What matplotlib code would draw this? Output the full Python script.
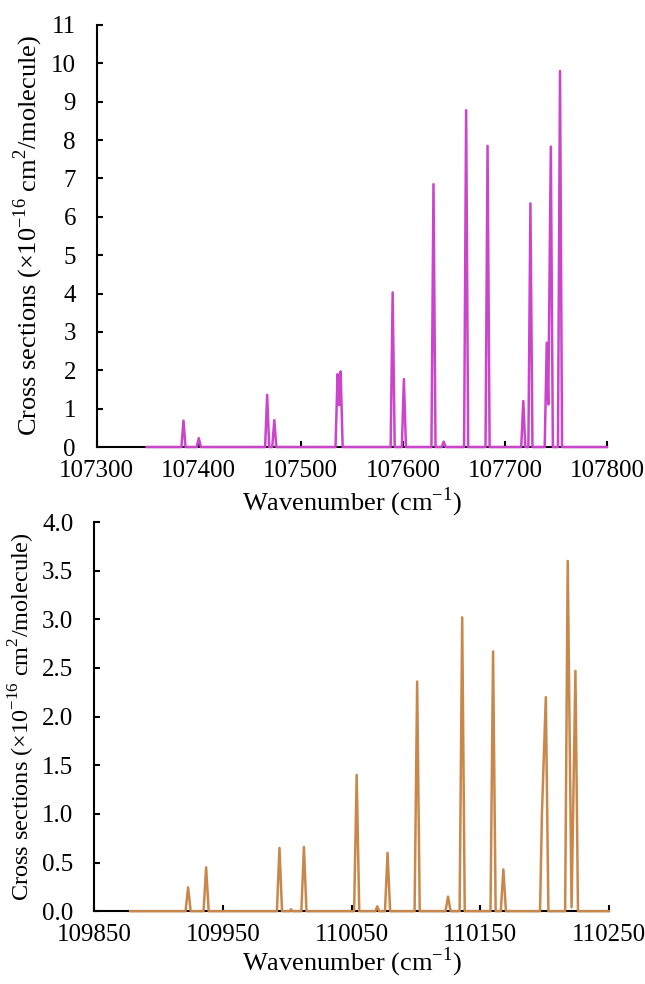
import matplotlib
matplotlib.use('Agg')
import matplotlib.pyplot as plt

# top panel: spectrum vertices (cm-1, 1e-16 cm2/molecule)
wn_top = [107349, 107383, 107385, 107387, 107398, 107400, 107402,
          107465, 107467, 107469, 107472, 107474, 107476,
          107534, 107536, 107537.5, 107539, 107541,
          107588, 107590, 107592, 107599, 107601, 107603,
          107628, 107630, 107632, 107638, 107640, 107642,
          107660, 107662, 107664, 107681, 107683, 107685,
          107716, 107718, 107720, 107723, 107725, 107727,
          107739, 107741, 107742.5, 107745, 107747,
          107752, 107754, 107756, 107800]
cs_top = [0, 0, 0.69, 0, 0, 0.23, 0,
          0, 1.36, 0, 0, 0.70, 0,
          0, 1.90, 1.09, 1.97, 0,
          0, 4.03, 0, 0, 1.77, 0,
          0, 6.85, 0, 0, 0.14, 0,
          0, 8.78, 0, 0, 7.85, 0,
          0, 1.20, 0, 0, 6.35, 0,
          0, 2.72, 1.11, 7.83, 0,
          0, 9.80, 0, 0]

# bottom panel
wn_bot = [109878, 109921, 109923, 109925, 109935, 109937, 109939,
          109992, 109994, 109996, 110002, 110003, 110004,
          110011, 110013, 110015, 110052, 110054, 110056,
          110068.5, 110070, 110071.5, 110076, 110078, 110080,
          110099, 110101, 110103, 110123, 110125, 110127,
          110134, 110136, 110138, 110158, 110160, 110162,
          110166, 110168, 110170,
          110196.5, 110198, 110201, 110203,
          110216, 110218, 110221, 110224, 110226, 110250]
cs_bot = [0, 0, 0.245, 0, 0, 0.45, 0,
          0, 0.65, 0, 0, 0.02, 0,
          0, 0.66, 0, 0, 1.40, 0,
          0, 0.05, 0, 0, 0.60, 0,
          0, 2.36, 0, 0, 0.15, 0,
          0, 3.02, 0, 0, 2.67, 0,
          0, 0.43, 0,
          0, 1.02, 2.20, 0,
          0, 3.60, 0.04, 2.47, 0, 0]

top_xticks = [107300, 107400, 107500, 107600, 107700, 107800]
top_yticks = list(range(0, 12))
bot_xticks = [109850, 109950, 110050, 110150, 110250]
bot_yticks = [0.0, 0.5, 1.0, 1.5, 2.0, 2.5, 3.0, 3.5, 4.0]

plt.rcParams['font.family'] = ['Liberation Serif', 'DejaVu Serif']
plt.rcParams['mathtext.fontset'] = 'custom'
plt.rcParams['mathtext.rm'] = 'Liberation Serif'
plt.rcParams['font.size'] = 19

fig = plt.figure(figsize=(6.45, 9.84), dpi=100)
ax1 = fig.add_axes([0.150, 0.5457, 0.791, 0.4289])
ax2 = fig.add_axes([0.146, 0.0740, 0.798, 0.3955])

ylab = r'Cross sections ($\times$10$^{\mathregular{-16}}$ cm$^{\mathregular{2}}$/molecule)'
xlab = r'Wavenumber (cm$^{\mathregular{-1}}$)'

for ax, wn, cs, color, xt, yt, ysize in [
        (ax1, wn_top, cs_top, '#CC44CC', top_xticks, top_yticks, 19),
        (ax2, wn_bot, cs_bot, '#C9884B', bot_xticks, bot_yticks, 17.5)]:
    ax.plot(wn, cs, color=color, linewidth=1.8, zorder=3, clip_on=False)
    ax.set_xlim(xt[0], xt[-1])
    ax.set_ylim(yt[0], yt[-1])
    ax.set_xticks(xt)
    ax.set_yticks(yt)
    for s in ['top', 'right']:
        ax.spines[s].set_visible(False)
    for s in ['left', 'bottom']:
        ax.spines[s].set_linewidth(1.5)
    ax.tick_params(direction='in', length=4, width=1.5, labelsize=18)
    ax.tick_params(axis='x', pad=9)
    ax.tick_params(axis='y', pad=15)
    ax.set_ylabel(ylab, labelpad=4, fontsize=ysize)

ax1.set_xlabel(xlab, labelpad=3)
ax2.set_xlabel(xlab, labelpad=0)
ax2.yaxis.set_major_formatter(matplotlib.ticker.FormatStrFormatter('%.1f'))

fig.savefig('out.png', dpi=100)
